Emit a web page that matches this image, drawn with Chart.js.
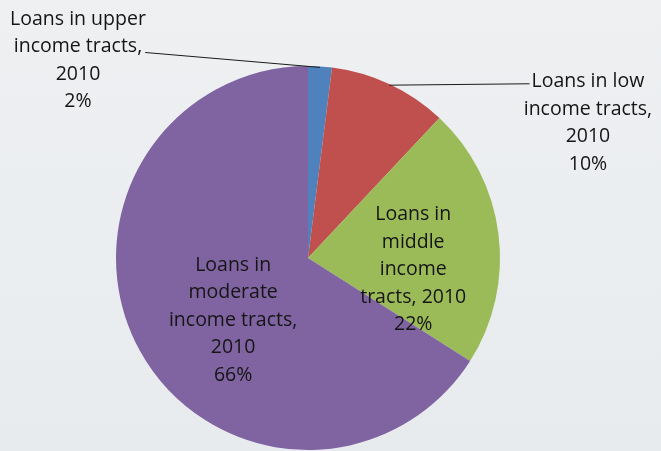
<!DOCTYPE html>
<html>
<head>
<meta charset="utf-8">
<script src="https://cdn.jsdelivr.net/npm/chart.js@4/dist/chart.umd.min.js"></script>
<style>
html,body{margin:0;padding:0;background:#eceef1;}
#wrap{width:661px;height:451px;position:relative;}
</style>
</head>
<body>
<div id="wrap"><canvas id="c" width="661" height="451"></canvas></div>
<script>
// Data
const categories = [
  ["Loans in upper", "income tracts,", "2010"],
  ["Loans in low", "income tracts,", "2010"],
  ["Loans in", "middle", "income", "tracts, 2010"],
  ["Loans in", "moderate", "income tracts,", "2010"]
];
const values = [2, 10, 22, 66];
const percentLabels = ["2%", "10%", "22%", "66%"];
const colors = ["#4F81BD", "#C0504D", "#9BBB59", "#8064A2"];

const FONT = '19.5px "Open Sans", Lato, sans-serif';
const LINE_H = 27.5;

// label placement: inside labels use offsets relative to pie centre (in units of radius)
const labelPlacement = [
  {type: "outside", tx: -1.198, ty: -1.03, lineFromLine: 1, side: "right"},
  {type: "outside", tx: 1.458, ty: -0.703, lineFromLine: 0, side: "left"},
  {type: "inside", dx: 0.548, dy: 0.06},
  {type: "inside", dx: -0.39, dy: 0.325}
];

const bgPlugin = {
  id: "bg",
  beforeDraw(chart) {
    const ctx = chart.ctx;
    const g = ctx.createLinearGradient(0, 0, 0, chart.height);
    g.addColorStop(0, "#eef0f2");
    g.addColorStop(1, "#e8ebee");
    ctx.save();
    ctx.fillStyle = g;
    ctx.fillRect(0, 0, chart.width, chart.height);
    ctx.restore();
  }
};

const labelPlugin = {
  id: "pieLabels",
  afterDatasetsDraw(chart) {
    const ctx = chart.ctx;
    const meta = chart.getDatasetMeta(0);
    ctx.save();
    ctx.font = FONT;
    ctx.fillStyle = "#151515";
    ctx.textAlign = "center";
    ctx.textBaseline = "middle";
    meta.data.forEach((arc, i) => {
      const p = labelPlacement[i];
      const r = arc.outerRadius;
      const lines = categories[i].concat([percentLabels[i]]);
      if (p.type === "inside") {
        const cx = arc.x + p.dx * r, cy = arc.y + p.dy * r;
        const top = cy - (lines.length - 1) * LINE_H / 2;
        lines.forEach((t, k) => ctx.fillText(t, cx, top + k * LINE_H));
      } else {
        const cx = arc.x + p.tx * r, cy = arc.y + p.ty * r;
        const top = cy - (lines.length - 1) * LINE_H / 2;
        lines.forEach((t, k) => ctx.fillText(t, cx, top + k * LINE_H));
        const mid = (arc.startAngle + arc.endAngle) / 2;
        const ex = arc.x + Math.cos(mid) * (r - 1);
        const ey = arc.y + Math.sin(mid) * (r - 1);
        const ln = p.lineFromLine;
        const w = ctx.measureText(lines[ln]).width;
        const ly = top + ln * LINE_H + (p.side === "right" ? 6 : 2);
        const lx = p.side === "right" ? cx + w / 2 + 3 : cx - w / 2 - 2;
        ctx.beginPath();
        ctx.strokeStyle = "#1b1b1b";
        ctx.lineWidth = 1;
        ctx.moveTo(lx, ly);
        ctx.lineTo(ex, ey);
        ctx.stroke();
      }
    });
    ctx.restore();
  }
};

new Chart(document.getElementById("c"), {
  type: "pie",
  data: {
    labels: categories.map(c => c.join(" ")),
    datasets: [{
      data: values,
      backgroundColor: colors,
      borderWidth: 0
    }]
  },
  options: {
    responsive: false,
    animation: false,
    layout: {padding: {left: 116, top: 66, right: 161, bottom: 1}},
    plugins: {legend: {display: false}, tooltip: {enabled: false}, title: {display: false}}
  },
  plugins: [bgPlugin, labelPlugin]
});
</script>
</body>
</html>
